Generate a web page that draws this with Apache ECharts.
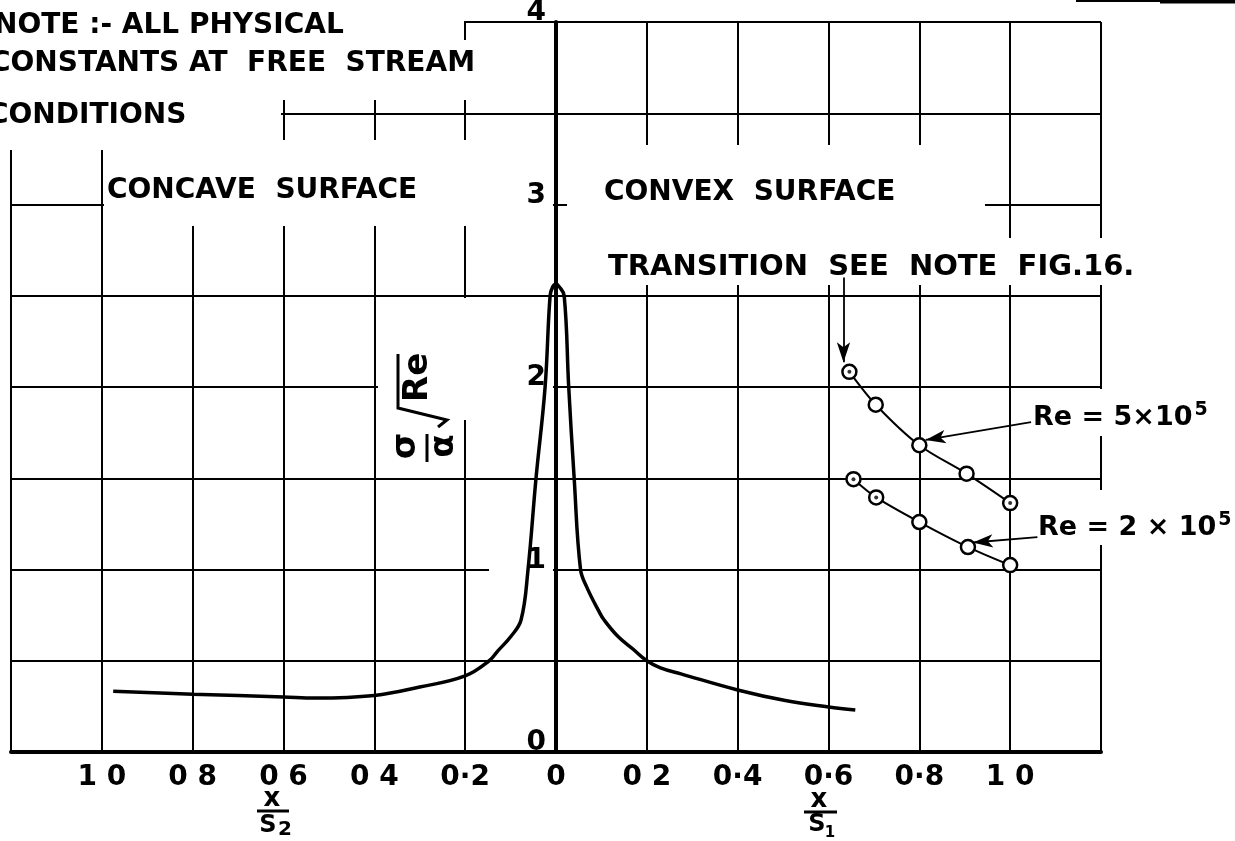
<!DOCTYPE html>
<html>
<head>
<meta charset="utf-8">
<script src="https://cdn.jsdelivr.net/npm/echarts@6/dist/echarts.min.js"></script>
<style>
html,body{margin:0;padding:0;background:#fff;}
#chart{width:1235px;height:841px;}
</style>
</head>
<body>
<div id="chart"></div>
<script>
// Boundary-layer parameter along the blade: negative x = concave surface (x/S2), positive x = convex surface (x/S1)
const curveX = [-0.975, -0.8, -0.6, -0.53, -0.4, -0.3, -0.2, -0.147, -0.128, -0.099, -0.077, -0.062, -0.044, -0.024, -0.013, -0.007, 0,
                0.007, 0.018, 0.028, 0.04, 0.054, 0.068, 0.094, 0.106, 0.136, 0.17, 0.2, 0.23, 0.275, 0.4, 0.505, 0.6, 0.659];
const curveY = [0.333, 0.317, 0.302, 0.296, 0.31, 0.356, 0.417, 0.5, 0.554, 0.634, 0.723, 0.99, 1.5, 2.0, 2.5, 2.55, 2.565,
                2.55, 2.5, 2.0, 1.5, 1.0, 0.902, 0.773, 0.723, 0.634, 0.563, 0.5, 0.461, 0.428, 0.34, 0.282, 0.247, 0.23];

// Convex surface after transition
const re5X = [0.646, 0.704, 0.8, 0.904, 1.0];
const re5Y = [2.083, 1.903, 1.681, 1.525, 1.364];
const re5Dotted = [true, false, false, false, true];
const re2X = [0.655, 0.705, 0.8, 0.907, 1.0];
const re2Y = [1.495, 1.395, 1.26, 1.123, 1.024];
const re2Dotted = [true, true, false, false, false];

const xTickValues = [-1.0, -0.8, -0.6, -0.4, -0.2, 0, 0.2, 0.4, 0.6, 0.8, 1.0];
const xTickLabels = ['1 0', '0 8', '0 6', '0 4', '0·2', '0', '0 2', '0·4', '0·6', '0·8', '1 0'];
const yTickValues = [0, 1, 2, 3, 4];
const yTickLabels = ['0', '1', '2', '3', '4'];

const FONT = '"DejaVu Sans", "Liberation Sans", sans-serif';
const zip = (xs, ys) => xs.map((x, i) => [x, ys[i]]);
const dotted = (xs, ys, flags) => xs.map((x, i) => flags[i] ? [x, ys[i]] : null).filter(Boolean);

const chart = echarts.init(document.getElementById('chart'), null, {renderer: 'canvas'});

const txt = (text, x, y, size, extra) => Object.assign({
  type: 'text', x: x, y: y, z: 10,
  style: Object.assign({text: text, fontSize: size, fontFamily: FONT, fontWeight: 'bold', fill: '#000',
    align: 'left', verticalAlign: 'middle'}, extra || {})
});
const mask = (x1, y1, x2, y2) => ({type: 'rect', z: 1, silent: true,
  shape: {x: x1, y: y1, width: x2 - x1, height: y2 - y1}, style: {fill: '#fff'}});
const seg = (x1, y1, x2, y2, w) => ({type: 'line', z: 10, silent: true,
  shape: {x1: x1, y1: y1, x2: x2, y2: y2}, style: {stroke: '#000', lineWidth: w}});

const arrowLine = {
  silent: true,
  symbol: ['none', 'arrow'],
  symbolSize: [10, 20],
  label: {show: false},
  lineStyle: {color: '#000', width: 1.8, type: 'solid'},
  emphasis: {disabled: true}
};
const richRe = {
  m: {fontSize: 27, fontFamily: FONT, fontWeight: 'bold', fill: '#000', lineHeight: 34},
  s: {fontSize: 19, fontFamily: FONT, fontWeight: 'bold', fill: '#000', verticalAlign: 'top', lineHeight: 34, padding: [0, 0, 0, 2]}
};

const graphics = [
  // blank areas behind the lettering
  mask(0, 0, 464, 100),
  mask(464, 40, 495, 100),
  mask(0, 100, 281, 150),
  mask(104, 140, 553, 226),
  mask(567, 145, 985, 285),
  mask(985, 238, 1112, 285),
  mask(378, 298, 553, 420),
  mask(489, 564, 553, 580),
  mask(1025, 389, 1112, 436),
  mask(1030, 490, 1112, 545),

  txt('NOTE :- ALL PHYSICAL', -6, 26, 28),
  txt('CONSTANTS AT  FREE  STREAM', -10, 64, 28),
  txt('CONDITIONS', -12, 116, 28),
  txt('CONCAVE  SURFACE', 107, 191, 28),
  txt('CONVEX  SURFACE', 604, 193, 28),
  txt('TRANSITION  SEE  NOTE  FIG.16.', 608, 267, 29),
  txt('{m|Re = 5×10}{s|5}', 1033, 418, 27, {rich: richRe}),
  txt('{m|Re = 2 × 10}{s|5}', 1038, 528, 27, {rich: richRe}),

  // axis titles x/S2 and x/S1
  txt('x', 272, 799, 26, {align: 'center'}),
  seg(257, 811, 289, 811, 3),
  txt('S', 268, 826, 24, {align: 'center'}),
  txt('2', 285, 830, 20, {align: 'center'}),
  txt('x', 819, 800, 26, {align: 'center'}),
  seg(804, 812, 837, 812, 3),
  txt('S', 817, 825, 24, {align: 'center'}),
  txt('1', 830, 833, 15, {align: 'center'}),

  // rotated ordinate title: (σ/α)·√Re
  {
    type: 'group', x: 427, y: 460, rotation: Math.PI / 2,
    children: [
      txt('σ', 14, -21, 34, {align: 'center'}),
      {type: 'line', z: 10, shape: {x1: -2, y1: 0, x2: 26, y2: 0}, style: {stroke: '#000', lineWidth: 3}},
      txt('α', 14, 17, 34, {align: 'center'}),
      {type: 'polyline', z: 10, shape: {points: [[106, -29], [52, -29], [40, 20], [33, 11]]},
        style: {stroke: '#000', lineWidth: 3, fill: null}},
      txt('Re', 58, -9, 34)
    ]
  },

  // edge of the neighbouring figure
  seg(1076, 1, 1235, 1, 2),
  seg(1160, 1.5, 1235, 1.5, 4)
];

const option = {
  animation: false,
  backgroundColor: '#fff',
  grid: {left: 11, right: 134, top: 22, bottom: 89, containLabel: false, outerBoundsMode: 'none'},
  xAxis: {
    type: 'value', min: -1.2, max: 1.2, interval: 0.2, z: 0,
    axisLine: {show: true, onZero: true, lineStyle: {color: '#000', width: 4}},
    axisTick: {show: false},
    splitLine: {show: true, lineStyle: {color: '#000', width: 2}},
    axisLabel: {
      margin: 12, color: '#000', fontSize: 28, fontFamily: FONT, fontWeight: 'bold',
      showMinLabel: true, showMaxLabel: true, hideOverlap: false,
      formatter: v => {
        const i = xTickValues.findIndex(t => Math.abs(t - v) < 1e-6);
        return i < 0 ? '' : xTickLabels[i];
      }
    }
  },
  yAxis: [
    {
      type: 'value', min: 0, max: 4, interval: 0.5, z: 0, position: 'left',
      axisLine: {show: false, onZero: false}, axisTick: {show: false}, axisLabel: {show: false},
      splitLine: {show: true, lineStyle: {color: '#000', width: 2}}
    },
    {
      // the x = 0 spine
      type: 'value', min: 0, max: 4, interval: 1, z: 3, position: 'left',
      axisLine: {show: true, onZero: true, onZeroAxisIndex: 0, lineStyle: {color: '#000', width: 4}},
      axisTick: {show: false}, axisLabel: {show: false}, splitLine: {show: false}
    }
  ],
  series: [
    {
      name: 'main', type: 'line', data: zip(curveX, curveY), z: 2,
      showSymbol: false, smooth: 0.4,
      lineStyle: {color: '#000', width: 3.5}
    },
    {
      name: 'Re = 5x10^5', type: 'line', data: zip(re5X, re5Y), z: 4,
      smooth: 0.3, symbol: 'circle', symbolSize: 14, showSymbol: true,
      itemStyle: {color: '#fff', borderColor: '#000', borderWidth: 2.5},
      lineStyle: {color: '#000', width: 2},
      markLine: Object.assign({}, arrowLine, {
        data: [
          [{coord: [0.633, 2.6]}, {coord: [0.633, 2.135]}],
          [{coord: [1.046, 1.808]}, {coord: [0.814, 1.71]}]
        ]
      })
    },
    {
      name: 'Re = 2x10^5', type: 'line', data: zip(re2X, re2Y), z: 4,
      smooth: 0.3, symbol: 'circle', symbolSize: 14, showSymbol: true,
      itemStyle: {color: '#fff', borderColor: '#000', borderWidth: 2.5},
      lineStyle: {color: '#000', width: 2},
      markLine: Object.assign({}, arrowLine, {
        data: [
          [{coord: [1.06, 1.177]}, {coord: [0.918, 1.148]}]
        ]
      })
    },
    {
      name: 'centres', type: 'scatter', z: 5, symbol: 'circle', symbolSize: 4,
      data: dotted(re5X, re5Y, re5Dotted).concat(dotted(re2X, re2Y, re2Dotted)),
      itemStyle: {color: '#000'}
    }
  ],
  graphic: graphics
};

chart.setOption(option);

// ordinate tick numbers sit just left of the x = 0 spine, a little above each line
const yLabels = yTickValues.map((v, i) => {
  const p = chart.convertToPixel({xAxisIndex: 0, yAxisIndex: 0}, [0, v]);
  return txt(yTickLabels[i], p[0] - 10, p[1] - 9, 28, {align: 'right'});
});
chart.setOption({graphic: graphics.concat(yLabels)});
</script>
</body>
</html>
